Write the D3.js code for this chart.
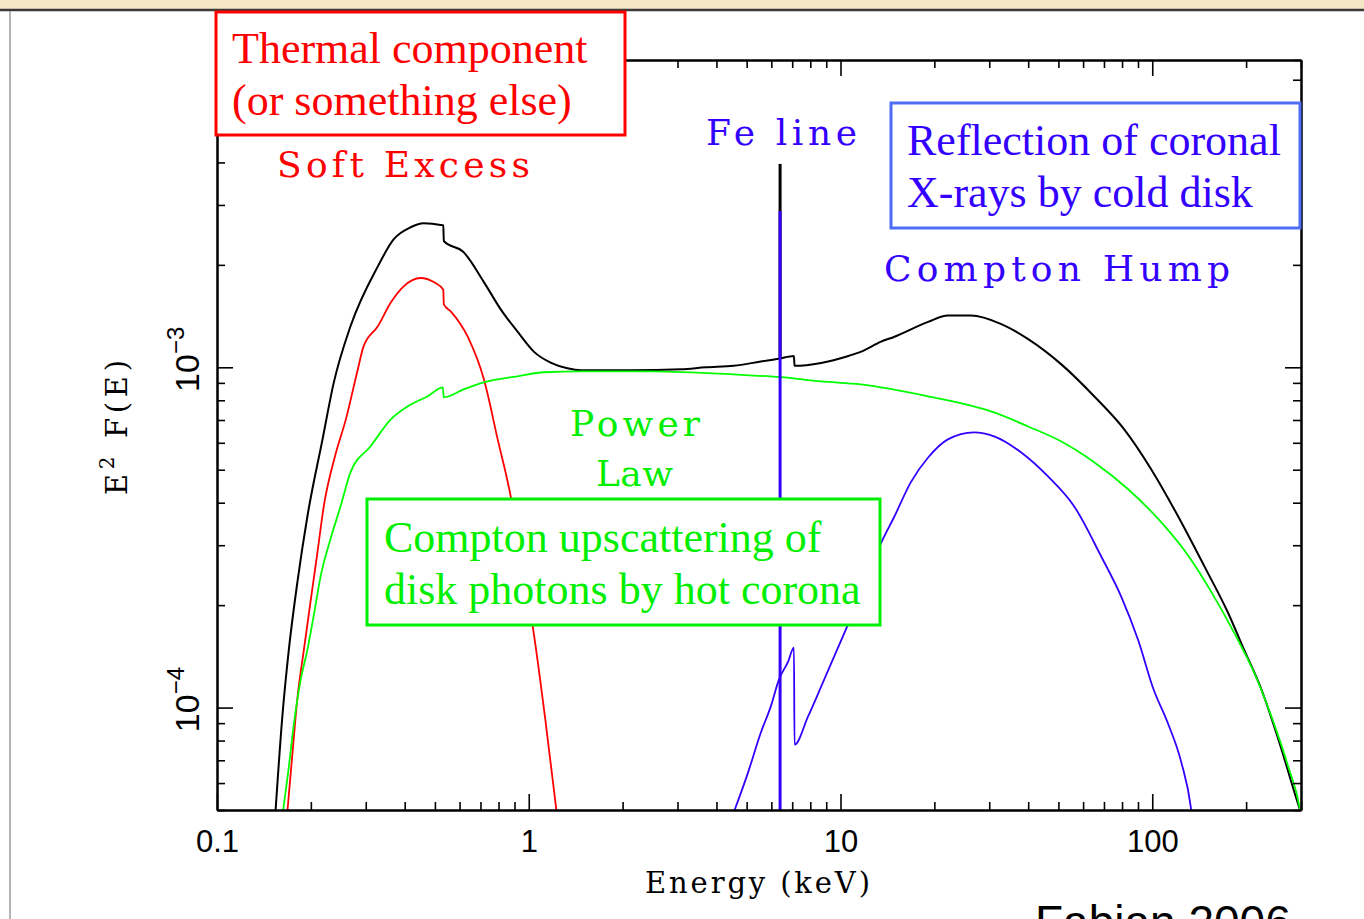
<!DOCTYPE html>
<html>
<head>
<meta charset="utf-8">
<script src="https://cdn.jsdelivr.net/npm/d3@7"></script>
<style>
  body { margin: 0; background: #fff; }
  svg { display: block; }
</style>
</head>
<body>
<div id="chart"></div>
<script>
// --- values: [energy keV, E^2 F(E)] ---
const xTickValues = [0.1, 1, 10, 100];
const xTickLabels = ["0.1", "1", "10", "100"];
const yTickValues = [1e-4, 1e-3];
const yTickExponents = ["\u22124", "\u22123"];

const totalModel = [
  [0.153, 4.5e-5], [0.162, 9.4e-5], [0.170, 1.48e-4], [0.181, 2.33e-4], [0.195, 3.65e-4],
  [0.218, 6.14e-4], [0.237, 9.03e-4], [0.268, 1.32e-3], [0.328, 1.98e-3], [0.369, 2.38e-3],
  [0.418, 2.58e-3], [0.460, 2.65e-3], [0.522, 2.62e-3], [0.532, 2.61e-3], [0.534, 2.35e-3],
  [0.618, 2.18e-3], [0.718, 1.78e-3], [0.813, 1.48e-3], [0.922, 1.27e-3], [1.04, 1.11e-3],
  [1.18, 1.03e-3], [1.33, 9.93e-4], [1.47, 9.8e-4], [2.12, 9.8e-4], [3.08, 9.87e-4],
  [3.70, 1.0e-3], [4.55, 1.01e-3], [5.55, 1.04e-3], [6.35, 1.06e-3], [7.09, 1.08e-3],
  [7.12, 1.01e-3], [8.66, 1.03e-3], [10.6, 1.08e-3], [11.6, 1.11e-3], [13.5, 1.19e-3],
  [14.9, 1.23e-3], [19.1, 1.36e-3], [22.1, 1.42e-3], [26.2, 1.42e-3], [32.8, 1.34e-3],
  [40.0, 1.21e-3], [51.1, 1.02e-3], [65.1, 8.22e-4], [81.3, 6.57e-4], [99.3, 5.01e-4],
  [121, 3.65e-4], [147, 2.60e-4], [175, 1.90e-4], [197, 1.48e-4], [224, 1.13e-4],
  [254, 8.05e-5], [294, 5.19e-5], [300, 4.9e-5]
];

const softExcess = [
  [0.167, 4.6e-5], [0.175, 7.52e-5], [0.181, 1.06e-4], [0.190, 1.48e-4], [0.200, 2.08e-4],
  [0.210, 2.86e-4], [0.220, 3.90e-4], [0.240, 5.55e-4], [0.259, 7.03e-4], [0.283, 9.87e-4],
  [0.295, 1.15e-3], [0.328, 1.32e-3], [0.361, 1.55e-3], [0.397, 1.73e-3], [0.450, 1.83e-3],
  [0.496, 1.78e-3], [0.532, 1.69e-3], [0.534, 1.53e-3], [0.562, 1.46e-3], [0.637, 1.23e-3],
  [0.718, 9.22e-4], [0.795, 6.14e-4], [0.875, 4.18e-4], [0.950, 2.64e-4], [1.03, 1.73e-4],
  [1.13, 9.23e-5], [1.24, 4.6e-5]
];

const powerLaw = [
  [0.162, 4.8e-5], [0.170, 6.70e-5], [0.176, 8.79e-5], [0.185, 1.19e-4], [0.195, 1.48e-4],
  [0.204, 1.85e-4], [0.215, 2.43e-4], [0.231, 3.12e-4], [0.249, 3.90e-4], [0.268, 4.91e-4],
  [0.311, 5.86e-4], [0.361, 7.03e-4], [0.409, 7.68e-4], [0.474, 8.22e-4], [0.530, 8.73e-4],
  [0.534, 8.16e-4], [0.618, 8.61e-4], [0.718, 9.03e-4], [0.922, 9.41e-4], [1.12, 9.67e-4],
  [1.47, 9.73e-4], [2.46, 9.73e-4], [4.55, 9.53e-4], [6.44, 9.35e-4], [8.66, 9.09e-4],
  [11.6, 8.91e-4], [19.1, 8.22e-4], [31.1, 7.37e-4], [40.0, 6.70e-4], [51.1, 6.05e-4],
  [65.1, 5.26e-4], [83.7, 4.38e-4], [107, 3.50e-4], [131, 2.78e-4], [155, 2.18e-4],
  [183, 1.66e-4], [212, 1.27e-4], [241, 9.42e-5], [273, 6.70e-5], [297, 5.08e-5], [300, 4.8e-5]
];

const reflection = [
  [4.50, 4.8e-5], [5.05, 6.44e-5], [5.55, 8.43e-5], [5.98, 1.01e-4], [6.35, 1.21e-4],
  [6.78, 1.36e-4], [7.09, 1.50e-4], [7.12, 7.78e-5], [7.87, 9.42e-5], [8.66, 1.15e-4],
  [9.53, 1.41e-4], [10.5, 1.73e-4], [13.5, 3.05e-4], [14.9, 3.65e-4], [16.8, 4.59e-4],
  [19.1, 5.43e-4], [22.1, 6.14e-4], [26.8, 6.44e-4], [31.1, 6.27e-4], [38.0, 5.62e-4],
  [46.4, 4.77e-4], [56.2, 3.90e-4], [68.6, 2.78e-4], [79.5, 2.12e-4], [90.1, 1.58e-4],
  [101, 1.13e-4], [112, 9.04e-5], [124, 6.89e-5], [133, 5.08e-5], [134, 4.8e-5]
];

// narrow Fe K line at 6.4 keV: peak in the total and in the reflection component
const feLineEnergy = 6.4;
const feLineTotalPeak = 3.96e-3;
const feLineReflPeak = 2.88e-3;
const feLineContinuum = 1.06e-3;

// --- layout ---
const W = 1364, H = 919;
const plot = { left: 217, right: 1301, top: 60, bottom: 810 };
const serif = "'Liberation Serif', 'Times New Roman', serif";
const plotFont = "'DejaVu Serif', serif";   // stands in for the PGPLOT font
const sans = "'Liberation Sans', Arial, sans-serif";

const col = {
  black: "#000",
  red: "#ff0000",
  green: "#00ee00",
  blue: "#3300ff",
  boxBlue: "#4f6cf5"
};

const svg = d3.select("#chart").append("svg")
  .attr("width", W).attr("height", H)
  .style("background", "#fff");

// slide frame on top / left
svg.append("rect").attr("x", 0).attr("y", 0).attr("width", W).attr("height", 9).attr("fill", "#f3e7c6");
svg.append("line").attr("x1", 0).attr("x2", W).attr("y1", 10).attr("y2", 10)
  .attr("stroke", "#3a3a3a").attr("stroke-width", 2.5);
svg.append("line").attr("x1", 10).attr("x2", 10).attr("y1", 11).attr("y2", H)
  .attr("stroke", "#9a9a9a").attr("stroke-width", 1.5);

// scales
const x = d3.scaleLog().domain([0.1, 300]).range([plot.left, plot.right]);
const y = d3.scaleLog().domain([5e-5, 8e-3]).range([plot.bottom, plot.top]);

const isMajor = v => Math.abs(Math.log10(v) - Math.round(Math.log10(v))) < 1e-6;
const xMinor = x.ticks().filter(v => !isMajor(v));
const yMinor = y.ticks().filter(v => !isMajor(v));

// clip for curves
svg.append("defs").append("clipPath").attr("id", "plotclip")
  .append("rect")
  .attr("x", plot.left).attr("y", plot.top)
  .attr("width", plot.right - plot.left).attr("height", plot.bottom - plot.top);

// --- curves ---
const line = d3.line()
  .x(d => x(d[0]))
  .y(d => y(d[1]))
  .curve(d3.curveMonotoneX);

const curves = svg.append("g").attr("clip-path", "url(#plotclip)");

curves.append("path").datum(totalModel)
  .attr("d", line).attr("fill", "none").attr("stroke", col.black).attr("stroke-width", 2);
curves.append("path").datum(softExcess)
  .attr("d", line).attr("fill", "none").attr("stroke", col.red).attr("stroke-width", 1.8);
curves.append("path").datum(powerLaw)
  .attr("d", line).attr("fill", "none").attr("stroke", "#00ff00").attr("stroke-width", 1.8);
curves.append("path").datum(reflection)
  .attr("d", line).attr("fill", "none").attr("stroke", col.blue).attr("stroke-width", 1.8);

// Fe line: black part is the total, blue part the reflection component
curves.append("line")
  .attr("x1", x(feLineEnergy)).attr("x2", x(feLineEnergy))
  .attr("y1", y(feLineTotalPeak)).attr("y2", y(feLineContinuum))
  .attr("stroke", col.black).attr("stroke-width", 3);
curves.append("line")
  .attr("x1", x(feLineEnergy)).attr("x2", x(feLineEnergy))
  .attr("y1", y(feLineReflPeak)).attr("y2", y(5e-5))
  .attr("stroke", col.blue).attr("stroke-width", 3);

// --- axes: frame with inward ticks on all four sides ---
function drawAxis(axisFn, scale, values, size, translate, labels) {
  const a = axisFn(scale).tickValues(values).tickSizeInner(-size).tickSizeOuter(0);
  if (labels) a.tickFormat((d, i) => labels[i]); else a.tickFormat("");
  const g = svg.append("g").attr("transform", translate).call(a);
  g.select(".domain").attr("stroke", "#000").attr("stroke-width", 2);
  g.selectAll(".tick line").attr("stroke", "#000").attr("stroke-width", 1.6);
  return g;
}

// bottom
drawAxis(d3.axisBottom, x, xMinor, 8, `translate(0,${plot.bottom})`);
const xg = drawAxis(d3.axisBottom, x, xTickValues, 16, `translate(0,${plot.bottom})`, xTickLabels);
xg.selectAll(".tick text")
  .attr("font-family", sans).attr("font-size", 31).attr("fill", "#000")
  .attr("y", 42).attr("dy", 0);
// top
drawAxis(d3.axisTop, x, xMinor, 8, `translate(0,${plot.top})`);
drawAxis(d3.axisTop, x, xTickValues, 16, `translate(0,${plot.top})`);
// left
drawAxis(d3.axisLeft, y, yMinor, 8, `translate(${plot.left},0)`);
drawAxis(d3.axisLeft, y, yTickValues, 16, `translate(${plot.left},0)`);
// right
drawAxis(d3.axisRight, y, yMinor, 8, `translate(${plot.right},0)`);
drawAxis(d3.axisRight, y, yTickValues, 16, `translate(${plot.right},0)`);

// rotated power-of-ten labels on the left
yTickValues.forEach((v, i) => {
  const t = svg.append("text")
    .attr("transform", `translate(199,${y(v) - 8}) rotate(-90)`)
    .attr("text-anchor", "middle")
    .attr("font-family", sans).attr("font-size", 34).attr("fill", "#000");
  t.append("tspan").text("10");
  t.append("tspan").attr("font-size", 24).attr("dy", -15).text(yTickExponents[i]);
});

// axis titles
svg.append("text")
  .attr("x", 645).attr("y", 893)
  .attr("font-family", plotFont).attr("font-size", 29)
  .attr("textLength", 225).attr("lengthAdjust", "spacing")
  .text("Energy (keV)");

const yl = svg.append("text")
  .attr("transform", "translate(127,495) rotate(-90)")
  .attr("font-family", plotFont).attr("font-size", 29)
  .attr("textLength", 135).attr("lengthAdjust", "spacing");
yl.append("tspan").text("E");
yl.append("tspan").attr("font-size", 20).attr("dy", -13).text("2");
yl.append("tspan").attr("dy", 13).text(" F(E)");

// --- component labels ---
const labels = [
  { text: "Soft Excess", x: 277, y: 177, len: 253, fill: col.red },
  { text: "Fe line", x: 706, y: 145, len: 151, fill: col.blue },
  { text: "Compton Hump", x: 884, y: 281, len: 346, fill: col.blue },
  { text: "Power", x: 570, y: 436, len: 130, fill: col.green },
  { text: "Law", x: 596, y: 486, len: 77, fill: col.green }
];
svg.selectAll(".comp-label").data(labels).enter().append("text")
  .attr("class", "comp-label")
  .attr("x", d => d.x).attr("y", d => d.y)
  .attr("font-family", plotFont).attr("font-size", 36)
  .attr("textLength", d => d.len).attr("lengthAdjust", "spacing")
  .attr("fill", d => d.fill)
  .text(d => d.text);

// --- boxed notes (white filled, on top of everything) ---
const boxes = [
  { x0: 216, y0: 12, x1: 625, y1: 135, stroke: col.red, fill: col.red,
    lines: ["Thermal component", "(or something else)"], tx: 232, ty: [63, 115] },
  { x0: 891, y0: 103, x1: 1300, y1: 228, stroke: col.boxBlue, fill: col.blue,
    lines: ["Reflection of coronal", "X-rays by cold disk"], tx: 907, ty: [155, 207] },
  { x0: 367, y0: 499, x1: 880, y1: 625, stroke: col.green, fill: col.green,
    lines: ["Compton upscattering of", "disk photons by hot corona"], tx: 384, ty: [552, 604] }
];
boxes.forEach(b => {
  const g = svg.append("g");
  g.append("rect")
    .attr("x", b.x0).attr("y", b.y0)
    .attr("width", b.x1 - b.x0).attr("height", b.y1 - b.y0)
    .attr("fill", "#fff").attr("stroke", b.stroke).attr("stroke-width", 3);
  b.lines.forEach((s, i) => {
    g.append("text")
      .attr("x", b.tx).attr("y", b.ty[i])
      .attr("font-family", serif).attr("font-size", 44)
      .attr("fill", b.fill)
      .text(s);
  });
});

// citation, cut off by the bottom edge as in the source slide
svg.append("text")
  .attr("x", 1035).attr("y", 938)
  .attr("font-family", sans).attr("font-size", 46).attr("fill", "#000")
  .text("Fabian 2006");
</script>
</body>
</html>
